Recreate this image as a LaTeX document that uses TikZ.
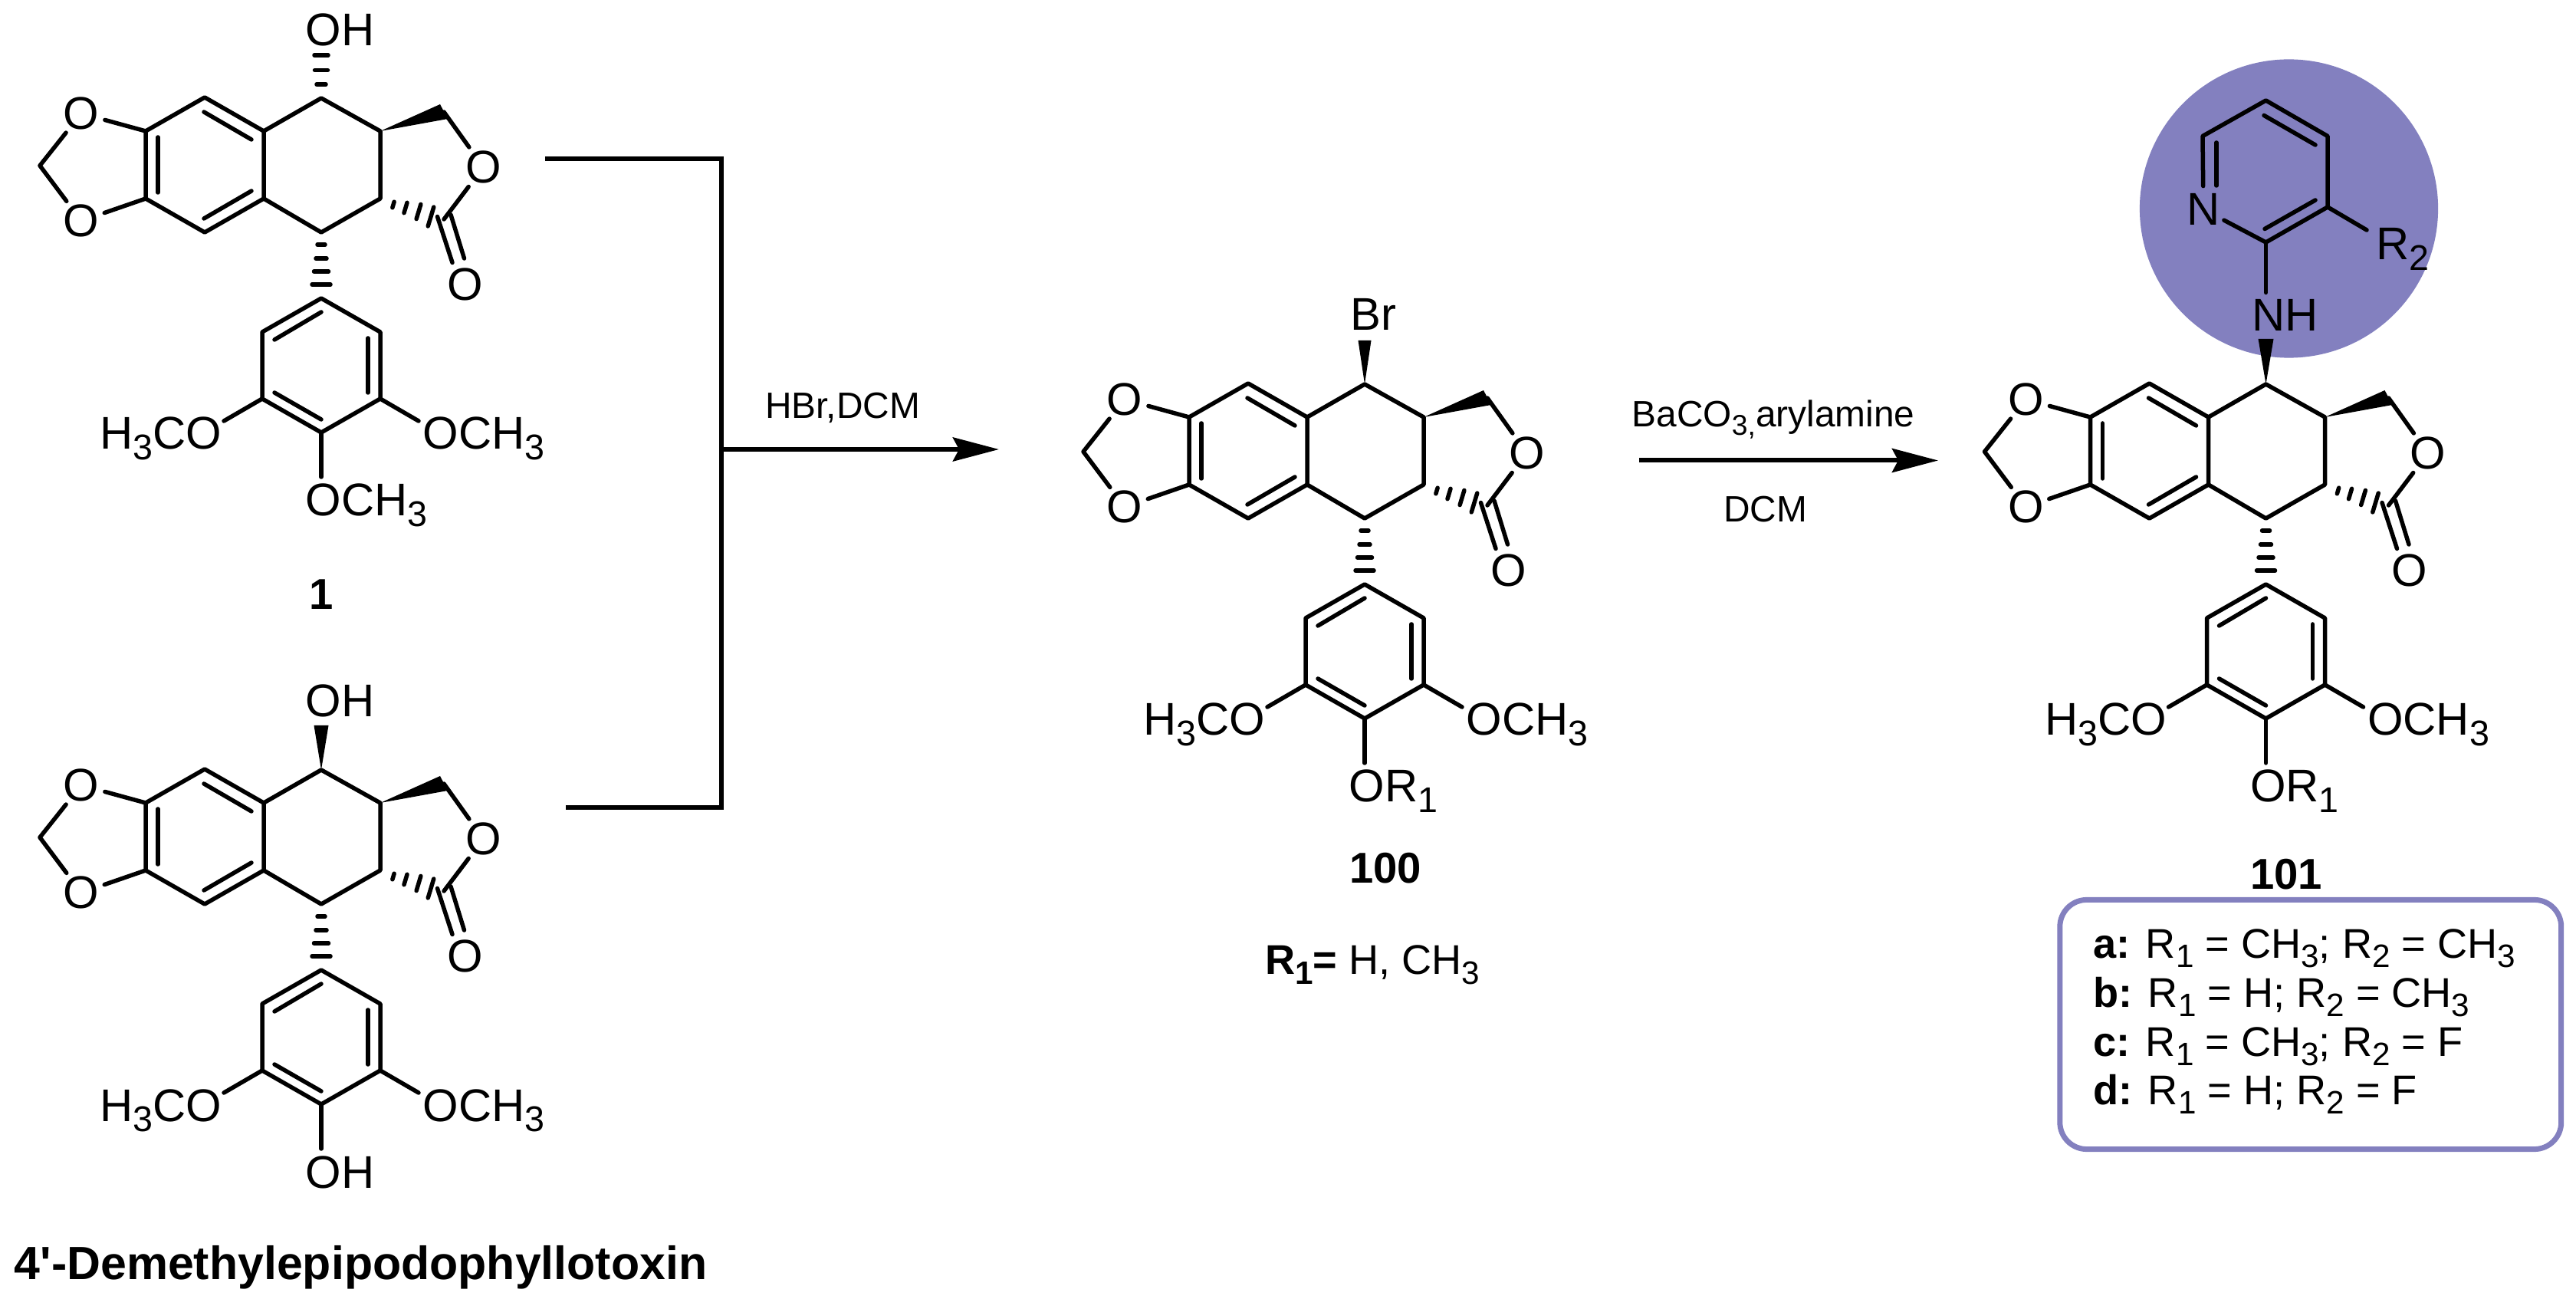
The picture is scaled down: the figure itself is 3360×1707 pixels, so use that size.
\documentclass[tikz,border=0pt]{standalone}
\usepackage{fontspec}
\setmainfont{Liberation Sans}
\usetikzlibrary{arrows.meta}
\definecolor{rgroupblue}{RGB}{131,128,191}
\newcommand{\subn}[1]{\raisebox{-.23em}{\scalebox{.78}{#1}}}
\tikzset{
  bond/.style={line width=0.055cm,line cap=round,line join=round},
  atom/.style={circle,inner sep=0pt,minimum size=0.58cm,font=\fontsize{17}{19}\selectfont},
  label/.style={inner sep=0pt,font=\fontsize{17}{19}\selectfont},
  cmpd/.style={inner sep=0pt,font=\fontsize{16}{18}\selectfont\bfseries},
  cmpdname/.style={inner sep=0pt,font=\fontsize{17.3}{19}\selectfont\bfseries},
  reagent/.style={inner sep=0pt,font=\fontsize{13.6}{15}\selectfont},
  rowtext/.style={inner sep=0pt,anchor=base west,font=\fontsize{15.4}{17}\selectfont},
  rxn/.style={line width=0.06cm},
  rxnarrow/.style={line width=0.06cm,-{Stealth[length=0.6cm,width=0.31cm,inset=0.08cm]}}
}
\newcommand{\podo}[4]{
\begin{scope}[shift={(#2,#3)},name prefix=#1-]
\coordinate (g) at (0,0);
\coordinate (a) at (-229,43);
\coordinate (b) at (-152,-1);
\coordinate (c) at (-75,43);
\coordinate (d) at (-75,131);
\coordinate (e) at (-152,175);
\coordinate (f) at (-229,131);
\coordinate (h) at (77,43);
\coordinate (i) at (77,131);
\coordinate (j) at (0,175);
\coordinate (k) at (160,18);
\coordinate (l) at (160,158);
\coordinate (m) at (-367,88);
\coordinate (p) at (0,261);
\coordinate (q) at (-77,305);
\coordinate (r) at (-77,392);
\coordinate (s) at (0,436);
\coordinate (t) at (77,392);
\coordinate (u) at (77,305);
\node[atom] (otop) at (-313,20) {O};
\node[atom] (obot) at (-313,160) {O};
\node[atom] (oring) at (211.5,90) {O};
\node[atom] (oket) at (187.5,243) {O};
\draw[bond] (a) -- (b) -- (c) -- (d) -- (e) -- (f) -- cycle;
\draw[bond] (c) -- (g) -- (h) -- (i) -- (j) -- (d);
\draw[bond] (p) -- (q) -- (r) -- (s) -- (t) -- (u) -- cycle;
\draw[bond] (a) -- (otop) -- (m) -- (obot) -- (f);
\draw[bond] (k) -- (oring) -- (l);
\draw[bond] (-213,51) -- (-213,123);
\draw[bond] (-153,18) -- (-91,54);
\draw[bond] (-153,157) -- (-91,121);
\draw[bond] (0,279) -- (-61,315);
\draw[bond] (61,313) -- (61,384);
\draw[bond] (-61,384) -- (0,419);
\draw[bond] (151.5,154.5) -- (171,214.5);
\draw[bond] (169,152) -- (186.5,209);
\fill (h) -- (155,8) -- (165,27) -- cycle;
\foreach \x/\y/\w in {94/139/4,110/143/7,127/148/10,143/154.5/13}
  \draw[bond] ({\x+.288*\w},{\y-.957*\w}) -- ({\x-.288*\w},{\y+.957*\w});
\foreach \y/\w in {191/5,209/7,226/9.5,243/12}
  \draw[bond] (-\w,\y) -- (\w,\y);
\draw[bond] (r) -- (-127,421);
\draw[bond] (t) -- (127,421);
\draw[bond] (s) -- (0,494);
\node[label,anchor=base east] (ometl) at (-129,458) {H\subn{3}CO};
\node[label,anchor=base west] (ometr) at (132,458) {OCH\subn{3}};
\node[label,anchor=base west] (obot4) at (-21,545) {#4};
\end{scope}
}
\begin{document}
\begin{tikzpicture}[x=0.01cm,y=-0.01cm]
\useasboundingbox (0,0) rectangle (3360,1707);
\node[circle,fill=rgroupblue,inner sep=0pt,minimum size=3.89cm] (halo) at (2985.5,272) {};
\podo{one}{419}{128}{OCH\subn{3}}
\podo{dem}{419}{1004}{OH}
\podo{brm}{1780}{501}{OR\subn{1}}
\podo{amn}{2955.5}{501}{OR\subn{1}}
% top substituents
\foreach \y/\w in {-56/9,-36.5/8.5,-18/6}
  \draw[bond] (419-\w,128+\y) -- (419+\w,128+\y);
\node[label,anchor=base west] (oneoh) at (398,60) {OH};
\fill (dem-g) -- (409.5,946) -- (428.5,946) -- cycle;
\node[label,anchor=base west] (demoh) at (398,935) {OH};
\fill (brm-g) -- (1771.5,444) -- (1788.5,444) -- cycle;
\node[label,anchor=base] (brlab) at (1791,431) {Br};
\fill (amn-g) -- (2945.5,442) -- (2965.5,442) -- cycle;
\node[label,anchor=base west] (nhlab) at (2937,432) {NH};
% pyridine
\coordinate (pyb) at (2955.5,316);
\coordinate (pyc) at (3036,270);
\coordinate (pyd) at (3036,177.5);
\coordinate (pye) at (2955.5,131);
\coordinate (pyf) at (2873,177.5);
\coordinate (pyr) at (3087,300);
\coordinate (pyh) at (2955.5,381.5);
\node[atom] (pyn) at (2874,273) {N};
\draw[bond] (pyn) -- (pyb) -- (pyc) -- (pyd) -- (pye) -- (pyf) -- (pyn);
\draw[bond] (2891,186) -- (2891,242);
\draw[bond] (2953,150.5) -- (3020,189);
\draw[bond] (2954,298.5) -- (3020,261);
\draw[bond] (pyc) -- (pyr);
\draw[bond] (pyb) -- (pyh);
\node[label,anchor=base west] (rtwo) at (3098.5,339) {R\subn{2}};
% arrows
\coordinate (brka) at (711,207);
\coordinate (brkb) at (941,207);
\coordinate (brkc) at (941,1053);
\coordinate (brkd) at (738,1053);
\coordinate (brke) at (941,586);
\coordinate (tipa) at (1303,586);
\draw[rxn] (brka) -- (brkb) -- (brkc) -- (brkd);
\draw[rxnarrow] (brke) -- (tipa);
\node[reagent,anchor=base] (hbr) at (1099,546) {HBr,DCM};
\coordinate (arra) at (2138,600.5);
\coordinate (tipb) at (2528,600.5);
\draw[rxnarrow] (arra) -- (tipb);
\node[reagent,anchor=base west] (baco) at (2128,556.5) {BaCO\subn{3,}arylamine};
\node[reagent,anchor=base] (dcm) at (2302.5,681) {DCM};
% labels
\node[cmpd] (lone) at (419,775) {1};
\node[cmpdname,anchor=base west] (ldem) at (18,1668) {4\textquotesingle-Demethylepipodophyllotoxin};
\node[cmpd] (lbrm) at (1807,1132) {100};
\node[cmpd] (lamn) at (2982,1140) {101};
\node[rowtext] (rone) at (1649.5,1271) {\textbf{R\subn{1}=} H, CH\subn{3}};
\node[draw=rgroupblue,line width=0.07cm,rounded corners=0.35cm,inner sep=0pt,minimum width=6.535cm,minimum height=3.25cm] (varbox) at (3013.75,1336) {};
\node[rowtext] (rowa) at (2730,1249.5) {\textbf{a:} R\subn{1} = CH\subn{3}; R\subn{2} = CH\subn{3}};
\node[rowtext] (rowb) at (2730,1313) {\textbf{b:} R\subn{1} = H; R\subn{2} = CH\subn{3}};
\node[rowtext] (rowc) at (2730,1377) {\textbf{c:} R\subn{1} = CH\subn{3}; R\subn{2} = F};
\node[rowtext] (rowd) at (2730,1440.5) {\textbf{d:} R\subn{1} = H; R\subn{2} = F};
\end{tikzpicture}
\end{document}
